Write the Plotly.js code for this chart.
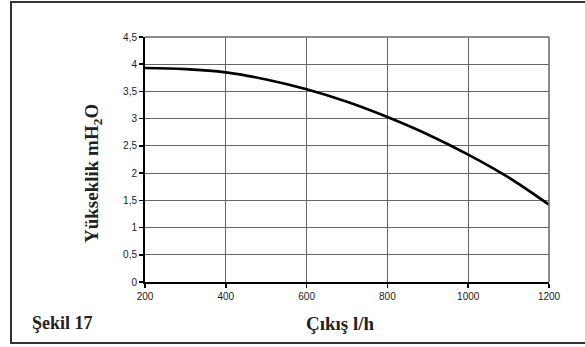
<!DOCTYPE html>
<html>
<head>
<meta charset="utf-8">
<script src="https://cdn.plot.ly/plotly-3.0.1.min.js"></script>
<style>html,body{margin:0;padding:0;background:#fff;}#chart{width:585px;height:347px;}</style>
</head>
<body>
<div id="chart"></div>
<script>
const flowRates = [200, 300, 400, 500, 600, 700, 800, 900, 1000, 1100, 1200];
const heads = [3.93, 3.91, 3.85, 3.72, 3.54, 3.31, 3.03, 2.71, 2.34, 1.92, 1.42];
const xTickVals = [200, 400, 600, 800, 1000, 1200];
const xTickText = ['200', '400', '600', '800', '1000', '1200'];
const yTickVals = [0, 0.5, 1, 1.5, 2, 2.5, 3, 3.5, 4, 4.5];
const yTickText = ['0', '0,5', '1', '1,5', '2', '2,5', '3', '3,5', '4', '4,5'];
const xTitle = '<b>Çıkış l/h</b>';
const yTitle = '<b>Yükseklik mH<sub>2</sub>O</b>';
const figLabel = '<b>Şekil 17</b>';

const W = 585, H = 347, L = 145, R = 36, T = 37, B = 65;
const pw = W - L - R, ph = H - T - B;
const px = v => (v - L) / pw;
const py = v => (H - B - v) / ph;

const trace = {
  x: flowRates, y: heads, type: 'scatter', mode: 'lines',
  line: {color: '#000', width: 2.6, shape: 'spline', smoothing: 1},
  hoverinfo: 'skip'
};

const tickFont = {family: 'Liberation Sans, Arial, sans-serif', size: 10, color: '#1a1a1a'};
const titleFont = {family: 'Liberation Serif, Times New Roman, serif', size: 19, color: '#222'};

const layout = {
  width: W, height: H,
  margin: {l: L, r: R, t: T, b: B},
  paper_bgcolor: '#fff', plot_bgcolor: '#fff',
  showlegend: false,
  xaxis: {
    range: [200, 1200], tickvals: xTickVals, ticktext: xTickText,
    showgrid: true, gridcolor: '#666', gridwidth: 1,
    showline: true, linecolor: '#000', linewidth: 2, mirror: false,
    ticks: 'outside', ticklen: 4, tickcolor: '#000', tickwidth: 1.5,
    tickfont: tickFont, zeroline: false, fixedrange: true
  },
  yaxis: {
    range: [0, 4.5], tickvals: yTickVals, ticktext: yTickText,
    showgrid: true, gridcolor: '#666', gridwidth: 1,
    showline: true, linecolor: '#000', linewidth: 2, mirror: false,
    ticks: 'outside', ticklen: 4, tickcolor: '#000', tickwidth: 1.5,
    tickfont: tickFont, zeroline: false, fixedrange: true
  },
  shapes: [
    {type: 'rect', xref: 'paper', yref: 'paper', x0: px(11), x1: px(592), y0: py(343), y1: py(2),
     line: {color: '#333', width: 2}, layer: 'below'},
    {type: 'line', xref: 'paper', yref: 'paper', x0: 1, x1: 1, y0: 0, y1: 1,
     line: {color: '#666', width: 1.5}},
    {type: 'line', xref: 'paper', yref: 'paper', x0: 0, x1: 1, y0: 1, y1: 1,
     line: {color: '#666', width: 1.5}}
  ],
  annotations: [
    {text: yTitle, xref: 'paper', yref: 'paper', x: px(93), y: py(174), textangle: -90,
     showarrow: false, font: titleFont, xanchor: 'center', yanchor: 'middle'},
    {text: xTitle, xref: 'paper', yref: 'paper', x: px(340), y: py(323),
     showarrow: false, font: titleFont, xanchor: 'center', yanchor: 'middle'},
    {text: figLabel, xref: 'paper', yref: 'paper', x: px(30), y: py(323),
     showarrow: false, font: {family: 'Liberation Serif, Times New Roman, serif', size: 18, color: '#222'},
     xanchor: 'left', yanchor: 'middle'}
  ]
};

Plotly.newPlot('chart', [trace], layout, {staticPlot: true, displayModeBar: false});
</script>
</body>
</html>
